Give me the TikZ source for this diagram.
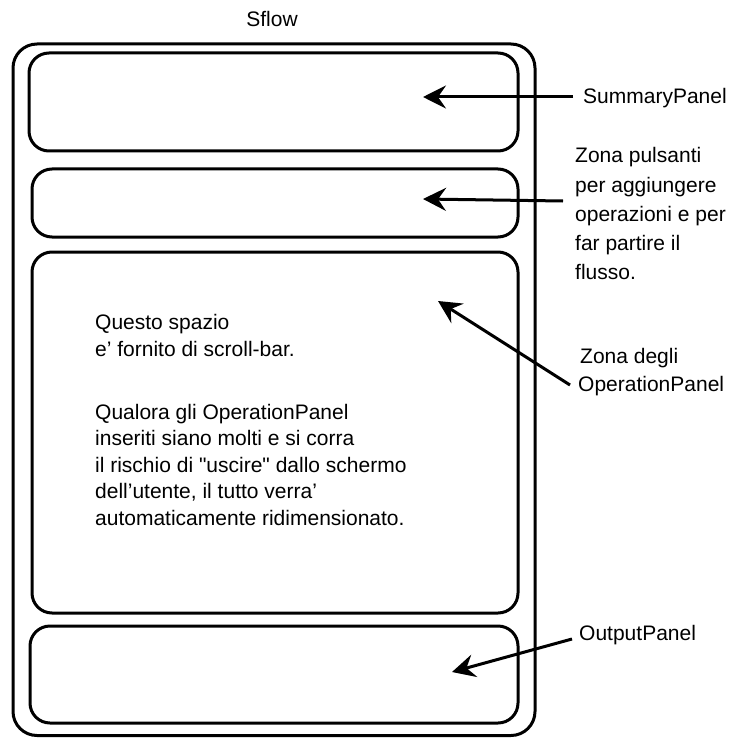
\documentclass[tikz,border=0pt]{standalone}
\usepackage{fontspec}
\setmainfont{Liberation Sans}[Ligatures=TeXOff]
\usetikzlibrary{arrows.meta}
\begin{document}
\begin{tikzpicture}[x=1pt,y=-1pt,
  panel/.style={draw=black,line width=3pt,rounded corners=20pt},
  outerpanel/.style={draw=black,line width=3pt,rounded corners=24pt},
  pointer/.style={line width=3pt,-{Stealth[length=23pt,width=23pt,inset=8pt]}},
  lbl/.style={inner sep=0pt,anchor=base west,font=\fontsize{21}{29}\selectfont},
]
\useasboundingbox (0,0) rectangle (735,738);

% title
\node[lbl,anchor=base] (title) at (272,27) {Sflow};

% frame and the four panels
\draw[outerpanel] (13,44) rectangle (535,735.5);
\draw[panel] (29,53) rectangle (518,151);
\draw[panel] (32,169) rectangle (518,237);
\draw[panel] (32,252) rectangle (518,613);
\draw[panel] (30,626) rectangle (518,723);

% arrow ends
\coordinate (sumtip) at (423,97);
\coordinate (sumtail) at (573,97);
\coordinate (btntip) at (423,199);
\coordinate (btntail) at (563,201);
\coordinate (optip) at (438,301);
\coordinate (optail) at (570,385);
\coordinate (outtip) at (452,672);
\coordinate (outtail) at (572,639);

% side labels
\node[lbl] (sumlbl) at (583,104) {SummaryPanel};
\node[lbl] (btn1) at (575,163) {Zona pulsanti};
\node[lbl] (btn2) at (575,192) {per aggiungere};
\node[lbl] (btn3) at (575,221) {operazioni e per};
\node[lbl] (btn4) at (575,250) {far partire il};
\node[lbl] (btn5) at (575,279) {flusso.};
\node[lbl] (op1) at (580,363) {Zona degli};
\node[lbl] (op2) at (578,391) {OperationPanel};
\node[lbl] (outlbl) at (579,640) {OutputPanel};

% arrows from the labels to the panels
\draw[pointer] (sumtail) -- (sumtip);
\draw[pointer] (btntail) -- (btntip);
\draw[pointer] (optail) -- (optip);
\draw[pointer] (outtail) -- (outtip);

% text inside the scrolling area
\node[lbl] (q1) at (95,329) {Questo spazio};
\node[lbl] (q2) at (95,356) {e’ fornito di scroll-bar.};
\node[lbl] (q3) at (95,419) {Qualora gli OperationPanel};
\node[lbl] (q4) at (95,445.5) {inseriti siano molti e si corra};
\node[lbl] (q5) at (95,472) {il rischio di "uscire" dallo schermo};
\node[lbl] (q6) at (95,498.5) {dell’utente, il tutto verra’};
\node[lbl] (q7) at (95,525) {automaticamente ridimensionato.};
\end{tikzpicture}
\end{document}
